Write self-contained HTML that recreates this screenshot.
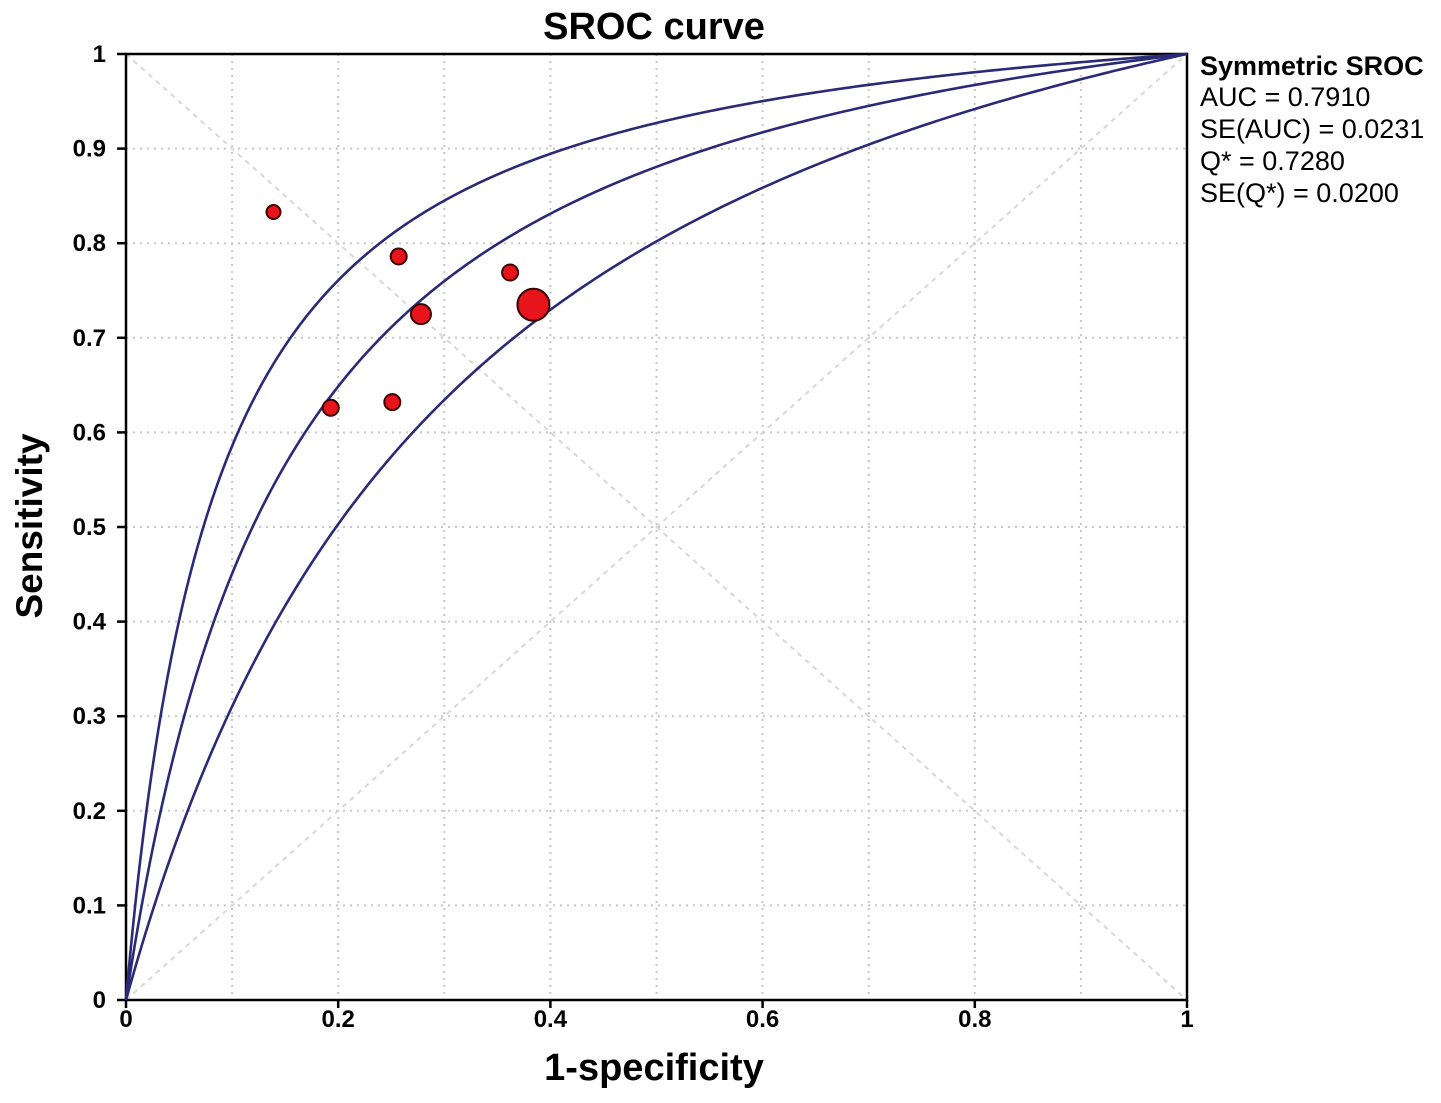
<!DOCTYPE html>
<html><head><meta charset="utf-8"><style>
body{margin:0;background:#fff;}
svg text{font-family:"Liberation Sans",Arial,sans-serif;}
</style></head><body>
<svg id="chart" width="1441" height="1098" xmlns="http://www.w3.org/2000/svg">
<text x="654" y="39" font-size="38" font-weight="bold" text-anchor="middle">SROC curve</text>
<text x="654" y="1080" font-size="38" font-weight="bold" text-anchor="middle">1-specificity</text>
<text transform="translate(42,526) rotate(-90)" font-size="37" font-weight="bold" text-anchor="middle">Sensitivity</text>
<g id="grid"></g>
<g id="axes"></g>
<g id="curves"></g>
<g id="points"></g>
<g font-size="27">
<text x="1200" y="75" font-weight="bold">Symmetric SROC</text>
<text x="1200" y="106">AUC = 0.7910</text>
<text x="1200" y="138">SE(AUC) = 0.0231</text>
<text x="1200" y="170">Q* = 0.7280</text>
<text x="1200" y="202">SE(Q*) = 0.0200</text>
</g>
</svg>
<script>
const ticks=[0,0.1,0.2,0.3,0.4,0.5,0.6,0.7,0.8,0.9,1];
const xTickLabels=["0","0.2","0.4","0.6","0.8","1"];
const xTickValues=[0,0.2,0.4,0.6,0.8,1];
const yTickLabels=["0","0.1","0.2","0.3","0.4","0.5","0.6","0.7","0.8","0.9","1"];
const curveQ=[0.781,0.731,0.668];
const studyFpr=[0.139,0.257,0.362,0.278,0.384,0.193,0.251];
const studyTpr=[0.833,0.786,0.769,0.725,0.735,0.626,0.632];
const studySize=[7,8,8,10,16,8,8];

const X0=126,X1=1187,Y0=1000,Y1=54;
const sx=v=>X0+v*(X1-X0), sy=v=>Y0-v*(Y0-Y1);
const NS="http://www.w3.org/2000/svg";
function mk(tag,attrs,parent){const e=document.createElementNS(NS,tag);for(const k in attrs)e.setAttribute(k,attrs[k]);parent.appendChild(e);return e;}
const grid=document.getElementById('grid'),axes=document.getElementById('axes'),curves=document.getElementById('curves'),pts=document.getElementById('points');
ticks.forEach(t=>{if(t===0||t===1)return;
 let a=mk('line',{x1:sx(t),x2:sx(t),y1:Y1,y2:Y0,stroke:'#c8c8c8','stroke-width':2,'stroke-dasharray':'2 5'},grid);
 
 let b=mk('line',{x1:X0,x2:X1,y1:sy(t),y2:sy(t),stroke:'#c8c8c8','stroke-width':2,'stroke-dasharray':'2 5'},grid);
 });
let d1=mk('line',{x1:sx(0),y1:sy(0),x2:sx(1),y2:sy(1),stroke:'#d8d8d8','stroke-width':2,'stroke-dasharray':'5 5'},grid);

let d2=mk('line',{x1:sx(0),y1:sy(1),x2:sx(1),y2:sy(0),stroke:'#d8d8d8','stroke-width':2,'stroke-dasharray':'5 5'},grid);

let fr=mk('rect',{x:X0,y:Y1,width:X1-X0,height:Y0-Y1,fill:'none',stroke:'#000','stroke-width':2.5},axes);

xTickValues.forEach((t,i)=>{
 let l=mk('line',{x1:sx(t),x2:sx(t),y1:Y0,y2:Y0+8,stroke:'#000','stroke-width':2.5},axes);
 
 let tx=mk('text',{x:sx(t),y:Y0+27,'font-size':24,'font-weight':'bold','text-anchor':'middle'},axes);tx.textContent=xTickLabels[i];
 });
ticks.forEach((t,i)=>{
 let l=mk('line',{x1:X0-9,x2:X0,y1:sy(t),y2:sy(t),stroke:'#000','stroke-width':2.5},axes);
 
 let tx=mk('text',{x:X0-20,y:sy(t)+8,'font-size':24,'font-weight':'bold','text-anchor':'end'},axes);tx.textContent=yTickLabels[i];
 });
curveQ.forEach(q=>{
 const D=2*Math.log(q/(1-q));let d='M'+sx(0)+','+sy(0);
 for(let i=1;i<=400;i++){const f=Math.pow(i/400,2.2);const lf=Math.log(f/(1-f+1e-12));let s=f>=1?1:1/(1+Math.exp(-(D+lf)));d+=' L'+sx(f).toFixed(2)+','+sy(s).toFixed(2);}
 let p=mk('path',{d:d,fill:'none',stroke:'#2a2a78','stroke-width':2.6},curves);
 });
studyFpr.forEach((f,i)=>{
 let c=mk('circle',{cx:sx(f),cy:sy(studyTpr[i]),r:studySize[i],fill:'#e8141c',stroke:'#3a0000','stroke-width':2},pts);
 });
</script>
</body></html>
